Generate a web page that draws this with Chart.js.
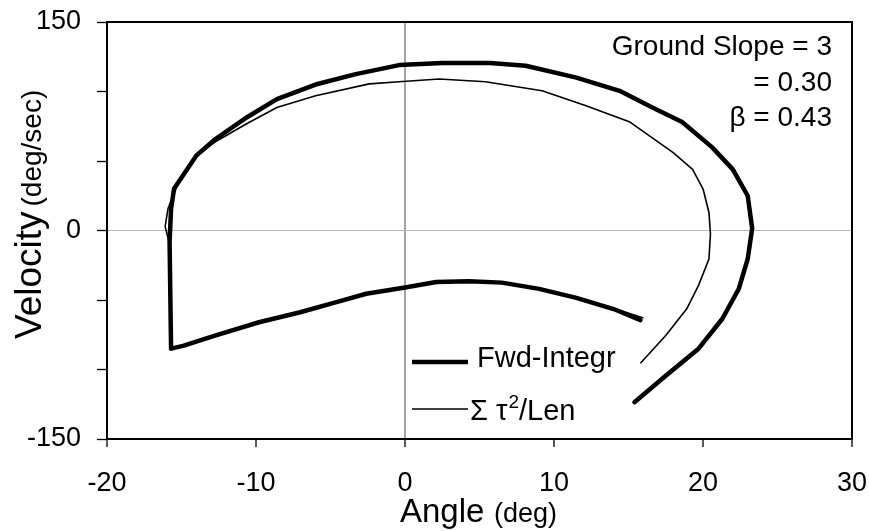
<!DOCTYPE html>
<html>
<head>
<meta charset="utf-8">
<script src="https://cdn.jsdelivr.net/npm/chart.js@4.4.1/dist/chart.umd.min.js"></script>
<style>
  html, body { margin: 0; padding: 0; background: #fff; }
  #wrap { width: 869px; height: 531px; }
</style>
</head>
<body>
<div id="wrap"><canvas id="c" width="869" height="531"></canvas></div>
<script>
// ---- Data ----
const xTickValues = [-20, -10, 0, 10, 20, 30];
const yTickLabels = [-150, 0, 150];

// Forward integration (thick curve): angle (deg), velocity (deg/sec)
const fwdAngle = [15.4, 17.5, 19.7, 21.3, 22.4, 23.0, 23.3, 23.0, 22.0, 20.6, 18.6, 16.6, 14.4, 11.5, 8.1, 5.7, 2.5, -0.4, -3.3, -6.0, -8.6, -10.6, -12.7, -14.0, -15.5, -15.7, -15.8, -15.7, -14.9, -12.7, -9.8, -7.1, -4.6, -2.6, 0.0, 2.1, 4.3, 6.5, 9.0, 11.5, 14.0, 15.8];
const fwdVelocity = [-123.5, -104.5, -85, -63.5, -42, -20.5, 1.5, 25, 44, 60, 78, 88.5, 100.5, 110, 118.5, 120.5, 120.5, 119, 112.5, 105, 94.5, 81.5, 66, 54, 30, 15.5, -8, -85, -83, -75.5, -66, -59, -51.5, -45.5, -41, -37, -36.5, -37.5, -42, -48.5, -56.5, -64.5];

// Sum tau^2 / Len (thin curve)
const lenAngle = [15.8, 17.5, 18.9, 19.7, 20.4, 20.5, 20.4, 20.0, 19.3, 18.0, 15.1, 12.1, 9.2, 5.4, 2.3, -0.4, -2.4, -6.0, -8.6, -10.6, -12.7, -14.0, -15.3, -15.9, -16.1, -15.8, -15.7, -14.9, -12.7, -9.8, -7.1, -4.6, -2.6, 0.0, 2.1, 4.3, 6.5, 9.0, 11.5, 14.0, 16.0];
const lenVelocity = [-95.5, -75.5, -56.5, -39.5, -20.5, -2.5, 13, 30, 44, 56, 78, 90, 100.5, 107, 109, 107, 105.5, 97, 88.5, 77, 64, 54, 32, 16, 3, -10, -85.5, -83, -76, -66.5, -59.5, -52, -46, -41, -37, -36.5, -37.5, -42, -48, -56, -63];

const seriesNames = ['Fwd-Integr', '\u03A3 \u03C4\u00B2/Len'];
const annotationLines = ['Ground Slope = 3', '= 0.30', '\u03B2 = 0.43'];

// ---- Build chart ----
const FONT = "'Liberation Sans', Arial, Helvetica, sans-serif";
const toPts = (xs, ys) => xs.map((x, i) => ({ x: x, y: ys[i] }));

const overlay = {
  id: 'overlay',
  afterDraw(chart) {
    const { ctx, chartArea: a } = chart;
    ctx.save();
    // frame
    ctx.strokeStyle = '#000';
    ctx.lineWidth = 2;
    ctx.strokeRect(a.left, a.top, a.right - a.left, a.bottom - a.top);

    // annotation (top right)
    ctx.fillStyle = '#000';
    ctx.font = '28px ' + FONT;
    ctx.textAlign = 'right';
    ctx.textBaseline = 'alphabetic';
    const ax = a.right - 20;
    annotationLines.forEach((t, i) => ctx.fillText(t, ax, a.top + 33 + i * 35.5));

    // legend
    const lx0 = 412, lx1 = 468;
    ctx.lineCap = 'butt';
    ctx.beginPath(); ctx.lineWidth = 4.5; ctx.moveTo(lx0, 362); ctx.lineTo(lx1, 362); ctx.stroke();
    ctx.beginPath(); ctx.lineWidth = 1.5; ctx.moveTo(lx0, 409); ctx.lineTo(lx1, 409); ctx.stroke();
    ctx.textAlign = 'left';
    ctx.font = '29px ' + FONT;
    ctx.fillText(seriesNames[0], 477, 367);
    // second entry with superscript 2
    let x = 470;
    const p1 = '\u03A3 \u03C4';
    ctx.fillText(p1, x, 420); x += ctx.measureText(p1).width + 1;
    ctx.font = '19px ' + FONT;
    ctx.fillText('2', x, 408); x += ctx.measureText('2').width;
    ctx.font = '29px ' + FONT;
    ctx.fillText('/Len', x, 420);

    // x axis title: "Angle (deg)"
    ctx.font = '33px ' + FONT;
    ctx.fillText('Angle', 400, 522);
    ctx.font = '27px ' + FONT;
    ctx.fillText('(deg)', 494, 522);

    // y axis title: "Velocity (deg/sec)" rotated
    ctx.translate(41, 339);
    ctx.rotate(-Math.PI / 2);
    ctx.font = '37px ' + FONT;
    const t2 = 'Velocity';
    ctx.fillText(t2, 0, 0);
    const w2 = ctx.measureText(t2).width;
    ctx.font = '28px ' + FONT;
    ctx.fillText('(deg/sec)', w2 + 5, 0);
    ctx.restore();
  }
};

new Chart(document.getElementById('c'), {
  type: 'scatter',
  data: {
    datasets: [
      { label: seriesNames[0], data: toPts(fwdAngle, fwdVelocity), showLine: true,
        borderColor: '#000', borderWidth: 4.5, pointRadius: 0, tension: 0, fill: false,
        borderJoinStyle: 'round', borderCapStyle: 'round' },
      { label: seriesNames[1], data: toPts(lenAngle, lenVelocity), showLine: true,
        borderColor: '#000', borderWidth: 1.6, pointRadius: 0, tension: 0, fill: false,
        borderJoinStyle: 'round' }
    ]
  },
  options: {
    responsive: false,
    animation: false,
    devicePixelRatio: 1,
    layout: { padding: { top: 22, right: 17, left: 0, bottom: 0 } },
    plugins: { legend: { display: false }, tooltip: { enabled: false } },
    scales: {
      x: {
        type: 'linear', min: -20, max: 30,
        afterFit: s => { s.height = 92; s.paddingLeft = 0; s.paddingRight = 0; },
        afterBuildTicks: s => { s.ticks = xTickValues.map(v => ({ value: v })); },
        ticks: { color: '#000', font: { family: FONT, size: 27 }, padding: 20, maxRotation: 0 },
        grid: {
          color: c => (c.tick && c.tick.value === 0) ? '#a3a3a3' : 'rgba(0,0,0,0)',
          lineWidth: 2, tickColor: '#000', tickWidth: 1.3, tickLength: 8, drawTicks: true
        },
        border: { color: '#000', width: 2 }
      },
      y: {
        type: 'linear', min: -150, max: 150,
        afterFit: s => { s.width = 107; s.paddingTop = 0; s.paddingBottom = 0; },
        ticks: {
          stepSize: 50, autoSkip: false, color: '#000', font: { family: FONT, size: 27 }, padding: 16,
          callback: v => yTickLabels.includes(v) ? String(v) : ''
        },
        grid: {
          color: c => (c.tick && c.tick.value === 0) ? '#b5b5b5' : 'rgba(0,0,0,0)',
          lineWidth: 1, tickColor: '#000', tickWidth: 1.3, tickLength: 10, drawTicks: true
        },
        border: { color: '#000', width: 2 }
      }
    }
  },
  plugins: [overlay]
});
</script>
</body>
</html>
